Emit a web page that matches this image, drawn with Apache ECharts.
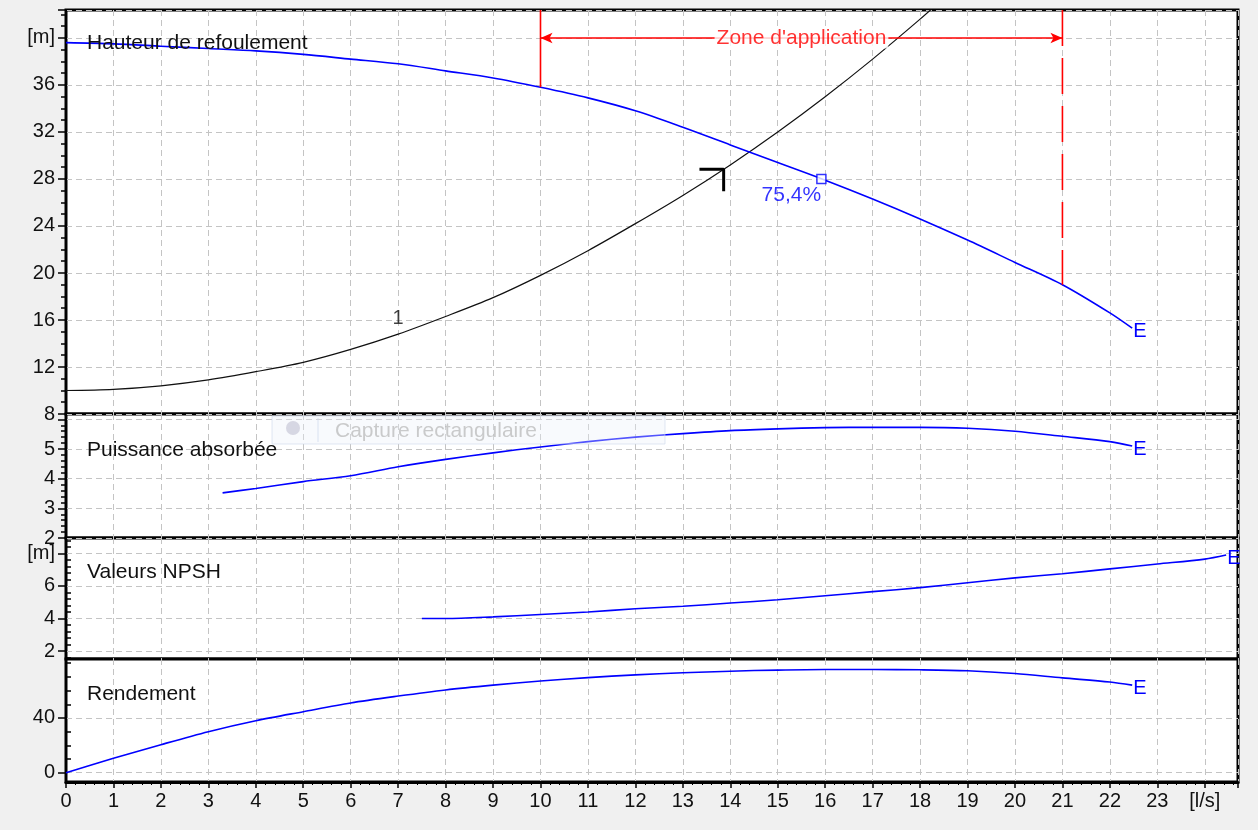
<!DOCTYPE html>
<html><head><meta charset="utf-8">
<script src="https://cdn.jsdelivr.net/npm/echarts@6/dist/echarts.min.js"></script>
<style>html,body{margin:0;padding:0;background:#f0f0f0}#c{width:1258px;height:830px}</style>
</head><body><div id="c"></div>
<script>
// ---------- DATA ----------
const qhQ = [0,1,2,3,4,5,6,7,8,9,10,11,12,13,14,15,16,17,18,19,20,21,22,22.47];
const qhH = [39.6,39.5,39.3,39.1,38.9,38.6,38.2,37.8,37.2,36.6,35.8,34.9,33.8,32.4,30.9,29.4,27.9,26.3,24.6,22.8,20.9,19.0,16.6,15.3];
const sysQ = [0,1,2,3,4,5,6,7,8,9,10,11,12,13,14,15,16,17,18,18.5];
const sysH = [10.0,10.1,10.4,10.9,11.6,12.4,13.5,14.8,16.3,17.9,19.8,21.9,24.2,26.6,29.2,32.0,35.0,38.2,41.6,43.4];
const powerQ = [3.3,4,5,6,7,8,9,10,11,12,13,14,15,16,17,18,19,20,21,22,22.47];
const powerP = [3.52,3.67,3.9,4.1,4.4,4.65,4.87,5.07,5.25,5.4,5.52,5.62,5.68,5.72,5.73,5.73,5.7,5.6,5.43,5.25,5.1];
const npshQ = [7.5,8,9,10,11,12,13,14,15,16,17,18,19,20,21,22,23,24,24.45];
const npshV = [4.0,4.0,4.1,4.25,4.4,4.6,4.75,4.95,5.15,5.4,5.65,5.9,6.2,6.5,6.75,7.05,7.35,7.65,7.9];
const effQ = [0,1,2,3,4,5,6,7,8,9,10,11,12,13,14,15,16,17,18,19,20,21,22,22.47];
const effV = [0,10.5,20.5,30,38,44.6,51,56,60.5,64,67,69.5,71.5,73,74.2,75,75.4,75.4,75.2,74.5,72.5,69.3,66.3,64];
const opPoint = [15.92, 28.0];
const opLabel = '75,4%';
const curveLabelPoint = [7, 14.8];
const curveLabel = '1';
const cornerMark = [[13.35,28.83],[13.86,28.83],[13.86,26.95]];
const zoneStart = 10, zoneEnd = 21, zoneArrowH = 40;
const zoneStartH = 35.8, zoneEndH = 19.0;
const zoneLabel = "Zone d'application";
const panelTitles = ['Hauteur de refoulement','Puissance absorbée','Valeurs NPSH','Rendement'];
const xUnit = '[l/s]', yUnit = '[m]';
const npshLabels = [2,4,6,8];
const npshMinor = [1.6,2.4,2.8,3.2,3.6,4.4,4.8,5.2,5.6,6.4,6.8,7.2,7.6,8.4,8.8];
const effLabels = [0,40];
const effMinor = [10,20,30,50,60,70,80];
const endMark = 'E';

// ---------- LAYOUT ----------
const FF = "'Liberation Sans', Arial, sans-serif";
const BLUE = '#0000ff', RED = '#ff0000';
const L = 66, R = 20;
const grids = [
  {top:10, height:404},
  {top:414, height:124},
  {top:538, height:121},
  {top:659, height:123}
].map(g => ({left:L, right:R, top:g.top, height:g.height, show:true, backgroundColor:'#fff', borderColor:'#000', borderWidth:3, z:0}));

const gridLine = {show:true, lineStyle:{color:'#c4c4c4', type:[6,4], width:1}};
const xMax = 24.7;
const xAxes = [0,1,2,3].map(i => ({
  type:'value', gridIndex:i, min:0, max:xMax, interval:1,
  axisLine:{show: i===3, onZero:false, lineStyle:{color:'#000', width:3}},
  axisTick:{show: i===3, length:6, lineStyle:{color:'#000', width:1.5}},
  minorTick:{show: i===3, splitNumber:5, length:3, lineStyle:{color:'#000', width:1}},
  axisLabel:{show: i===3, margin:9, color:'#111', fontSize:20, fontFamily:FF, showMaxLabel:false,
    formatter: v => v === 24 ? xUnit : String(v)},
  splitLine: gridLine
}));

const yBase = {
  type:'value',
  axisLine:{show:true, onZero:false, lineStyle:{color:'#000', width:2}},
  axisTick:{show:true, length:8, lineStyle:{color:'#000', width:1.5}},
  axisLabel:{color:'#111', fontSize:20, fontFamily:FF, margin:11, showMaxLabel:false},
  splitLine: gridLine
};
const yAxes = [
  Object.assign({}, yBase, {gridIndex:0, min:8, max:42.38, interval:4,
    minorTick:{show:true, splitNumber:4, length:5, lineStyle:{color:'#000', width:1.5}},
    axisLabel:Object.assign({}, yBase.axisLabel, {formatter: v => v === 40 ? yUnit : String(v)})}),
  Object.assign({}, yBase, {gridIndex:1, min:2, max:6.18, interval:1,
    minorTick:{show:true, splitNumber:5, length:5, lineStyle:{color:'#000', width:1.5}},
    axisLabel:Object.assign({}, yBase.axisLabel, {formatter: v => v >= 6 ? '' : String(v)})}),
  Object.assign({}, yBase, {gridIndex:2, min:1.51, max:8.95,
    axisTick:Object.assign({}, yBase.axisTick, {customValues:npshLabels}),
    axisLabel:Object.assign({}, yBase.axisLabel, {customValues:npshLabels, showMaxLabel:true, formatter: v => v === 8 ? yUnit : String(v)})}),
  Object.assign({}, yBase, {gridIndex:3, min:-6.8, max:83.1,
    axisTick:Object.assign({}, yBase.axisTick, {customValues:effLabels}),
    axisLabel:Object.assign({}, yBase.axisLabel, {customValues:effLabels, showMaxLabel:true})}),
  {type:'value', gridIndex:2, min:1.51, max:8.95, axisLine:{show:false}, splitLine:{show:false},
    axisLabel:{show:false}, axisTick:{show:true, length:5, customValues:npshMinor, lineStyle:{color:'#000', width:1.5}}},
  {type:'value', gridIndex:3, min:-6.8, max:83.1, axisLine:{show:false}, splitLine:{show:false},
    axisLabel:{show:false}, axisTick:{show:true, length:5, customValues:effMinor, lineStyle:{color:'#000', width:1.5}}}
];

const pairs = (xs, ys) => xs.map((x, i) => [x, ys[i]]);
const endLbl = {show:true, formatter:endMark, color:BLUE, fontSize:20, fontFamily:FF, distance:1, offset:[0,3]};
const blueLine = (xi, yi, data) => ({type:'line', xAxisIndex:xi, yAxisIndex:yi, data, smooth:0.3,
  showSymbol:false, symbol:'none', lineStyle:{color:BLUE, width:1.6}, itemStyle:{color:BLUE}, endLabel:endLbl, z:5, silent:true});

const series = [
  blueLine(0,0,pairs(qhQ,qhH)),
  {type:'line', xAxisIndex:0, yAxisIndex:0, data:pairs(sysQ,sysH), smooth:0.3, showSymbol:false, symbol:'none',
    lineStyle:{color:'#111', width:1.2}, z:4, silent:true},
  {type:'scatter', xAxisIndex:0, yAxisIndex:0, data:[curveLabelPoint], symbolSize:1, itemStyle:{color:'transparent'},
    label:{show:true, formatter:curveLabel, position:'top', distance:5, color:'#111', fontSize:20, fontFamily:FF}, z:6, silent:true},
  {type:'line', xAxisIndex:0, yAxisIndex:0, data:cornerMark, showSymbol:false, symbol:'none',
    lineStyle:{color:'#000', width:3}, z:6, silent:true},
  {type:'scatter', xAxisIndex:0, yAxisIndex:0, data:[opPoint], symbol:'rect', symbolSize:9,
    itemStyle:{color:'#fff', borderColor:BLUE, borderWidth:1.5},
    label:{show:true, formatter:opLabel, position:'bottom', distance:0, offset:[-30,0], color:BLUE, fontSize:21, fontFamily:FF}, z:7, silent:true},
  {type:'line', xAxisIndex:0, yAxisIndex:0, data:[[zoneStart,42.38],[zoneStart,zoneStartH]], showSymbol:false, symbol:'none',
    lineStyle:{color:RED, width:1.6}, z:5, silent:true,
    markLine:{silent:true, animation:false, symbol:['arrow','arrow'], symbolSize:[8,12], label:{show:false},
      lineStyle:{color:RED, width:1.6, type:'solid'},
      data:[[{coord:[zoneStart, zoneArrowH]}, {coord:[zoneEnd, zoneArrowH]}]]}},
  {type:'line', xAxisIndex:0, yAxisIndex:0, data:[[zoneEnd,42.38],[zoneEnd,zoneEndH]], showSymbol:false, symbol:'none',
    lineStyle:{color:RED, width:1.6, type:[36,12]}, z:5, silent:true},
  {type:'scatter', xAxisIndex:0, yAxisIndex:0, data:[[(zoneStart+zoneEnd)/2, zoneArrowH]], symbolSize:1, itemStyle:{color:'transparent'},
    label:{show:true, position:'inside', formatter:zoneLabel, color:RED, fontSize:21, fontFamily:FF, backgroundColor:'#fff', padding:[0,2]}, z:10, silent:true},
  blueLine(1,1,pairs(powerQ,powerP)),
  blueLine(2,2,pairs(npshQ,npshV)),
  blueLine(3,3,pairs(effQ,effV))
];

const titleY = [43, 450, 572, 694];
const graphic = panelTitles.map((t, i) => ({type:'text', x:87, y:titleY[i], z:20,
  style:{text:t, fill:'#111', font:'21px ' + FF, verticalAlign:'middle'}}));
// faded screen-capture overlay visible in the reference
graphic.push(
  {type:'rect', shape:{x:272, y:416, width:393, height:28}, z:30, style:{fill:'rgba(236,240,248,0.35)', stroke:'rgba(205,215,235,0.6)', lineWidth:1}},
  {type:'circle', shape:{cx:293, cy:428, r:7}, z:31, style:{fill:'rgba(200,200,215,0.7)'}},
  {type:'line', shape:{x1:318, y1:418, x2:318, y2:442}, z:31, style:{stroke:'rgba(205,215,235,0.7)', lineWidth:1}},
  {type:'text', x:335, y:431, z:31, style:{text:'Capture rectangulaire', fill:'rgba(185,185,185,0.75)', font:'21px ' + FF, verticalAlign:'middle'}}
);

const chart = echarts.init(document.getElementById('c'), null, {renderer:'canvas'});
chart.setOption({
  backgroundColor:'#f0f0f0',
  animation:false,
  grid:grids, xAxis:xAxes, yAxis:yAxes, series, graphic
});
</script></body></html>
